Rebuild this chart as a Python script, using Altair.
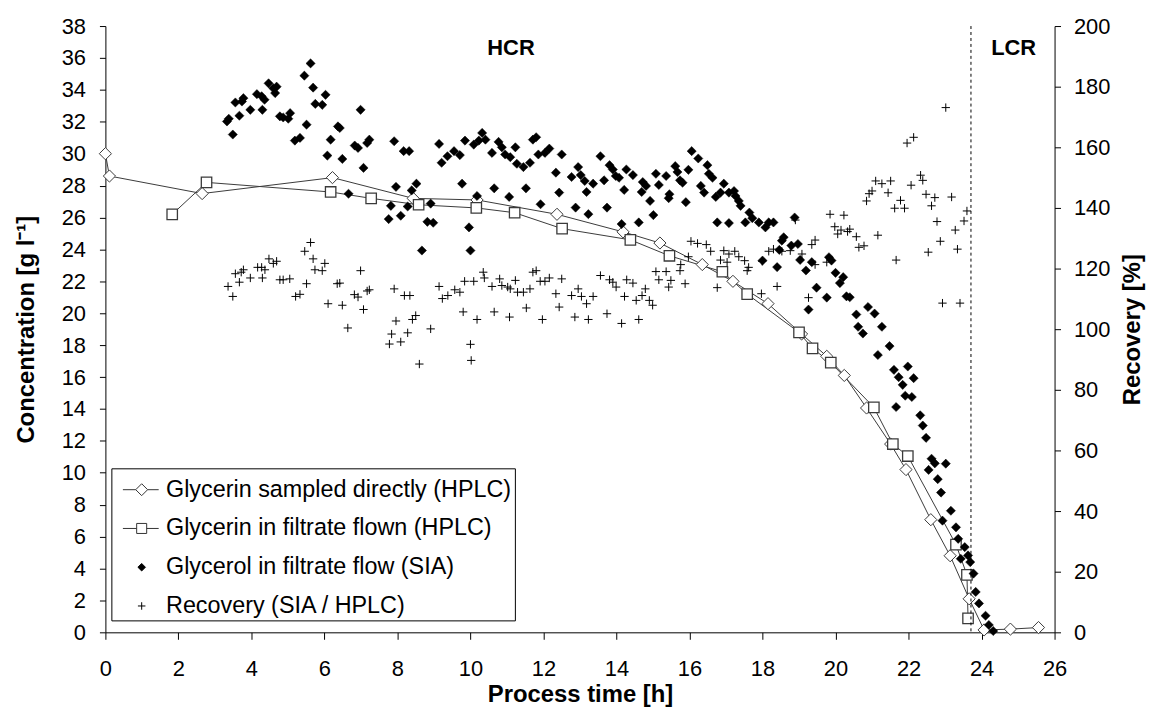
import altair as alt
import pandas as pd

FONT = "Liberation Sans"
LINE = "#3a3a3a"

# ---------------- data ----------------
series_names = [
    "Glycerin sampled directly (HPLC)",
    "Glycerin in filtrate flown (HPLC)",
    "Glycerol in filtrate flow (SIA)",
    "Recovery (SIA / HPLC)",
]

direct_t = [0.0, 0.11, 2.65, 6.22, 8.43, 10.18, 12.37, 14.18, 15.19, 16.35, 17.19, 18.15,
            19.07, 19.76, 20.24, 20.85, 21.51, 21.93, 22.61, 23.14, 23.66, 24.07, 24.79, 25.56]
direct_c = [30.0, 28.6, 27.5, 28.5, 27.2, 27.1, 26.2, 25.1, 24.4, 23.05, 22.0, 20.6,
            18.7, 17.3, 16.1, 14.06, 11.8, 10.2, 7.06, 4.8, 2.1, 0.15, 0.2, 0.3]

filtrate_t = [1.83, 2.77, 6.17, 7.28, 8.58, 10.16, 11.21, 12.51, 14.38, 15.45, 16.9, 17.58,
              19.0, 19.37, 19.87, 21.05, 21.57, 21.98, 23.3, 23.6, 23.63]
filtrate_c = [26.2, 28.2, 27.6, 27.2, 26.8, 26.6, 26.3, 25.3, 24.6, 23.6, 22.6, 21.2,
              18.8, 17.8, 16.9, 14.1, 11.8, 11.05, 5.5, 3.6, 0.87]

sia_t = [5.62, 5.45, 5.69, 6.03, 5.75, 5.94, 5.51, 4.47, 4.60, 4.69, 4.65, 4.15, 4.28, 4.36,
         3.78, 3.74, 3.56, 3.97, 4.30, 3.67, 3.38, 3.33, 3.49, 4.78, 4.87, 5.06, 5.01, 5.19,
         5.33, 6.17, 6.37, 6.42, 6.08, 6.49, 6.83, 6.92, 7.17, 7.23, 7.07, 6.99, 7.91, 7.96,
         7.82, 7.76, 6.66,
         8.17, 8.32, 9.14, 9.37, 9.21, 9.55, 9.71, 9.85, 10.09, 10.23, 10.32, 10.41, 10.59,
         10.77, 10.86, 10.95, 11.09, 11.23, 11.27, 11.45, 11.63, 11.71, 11.80, 11.86, 12.04,
         12.16, 12.50, 12.34, 12.43, 11.92, 11.52, 11.06, 10.65, 9.77, 10.18, 9.96, 10.00,
         8.67, 8.82, 8.98, 8.91, 8.52, 8.39, 8.28, 8.09, 12.95, 12.77, 13.02, 13.13, 13.18,
         13.36, 13.56, 13.81, 13.90, 13.98, 14.07, 14.27, 14.45, 13.66, 14.21, 12.88, 13.23,
         13.74, 14.14, 14.61, 15.01, 14.72, 14.81, 15.08, 15.16, 15.36, 15.61, 15.67, 15.74,
         15.81, 15.97, 16.06, 15.90, 14.92, 15.45, 15.43, 14.69,
         16.24, 16.49, 16.53, 16.63, 16.31, 16.40, 16.72, 16.94, 16.85, 17.08, 17.22, 17.26,
         17.35, 17.40, 16.76, 17.08, 17.64, 17.53, 17.72, 17.90, 18.08, 18.17, 18.30, 18.88,
         18.58, 18.53, 18.79, 18.97, 18.46, 18.40, 18.00, 19.03, 19.19, 19.35, 19.26, 19.48,
         19.76, 19.82, 19.89, 20.00, 20.21, 20.12, 20.30, 20.39, 20.57, 20.89, 21.07, 21.27,
         20.62, 20.75,
         21.48, 21.16, 21.60, 21.98, 21.73, 22.14, 21.84, 21.91, 22.09, 21.66, 22.32, 22.39,
         22.48, 22.63, 22.72, 23.02, 22.55, 22.80, 22.89, 23.16, 22.93, 23.30, 23.36, 23.54,
         23.63, 23.43, 23.69, 23.78, 23.84, 23.93, 24.11, 24.20, 24.32]
sia_c = [35.66, 34.89, 34.14, 33.69, 33.12, 33.06, 31.82, 34.41, 34.10, 34.20, 33.80, 33.73,
         33.60, 33.38, 33.48, 33.27, 33.21, 32.75, 32.75, 32.38, 32.19, 32.02, 31.20, 32.34,
         32.27, 32.54, 32.19, 30.82, 30.99, 30.88, 31.71, 31.61, 29.88, 29.67, 30.51, 30.36,
         30.67, 30.88, 29.11, 32.75, 30.78, 27.92, 26.73, 25.90, 27.49,
         30.16, 30.16, 30.61, 29.84, 29.43, 30.16, 29.91, 30.82, 30.57, 30.82, 31.30, 30.88,
         30.05, 30.74, 30.40, 29.95, 29.78, 30.40, 29.37, 29.16, 29.43, 30.88, 31.03, 29.95,
         30.05, 30.32, 29.95, 28.81, 27.56, 26.83, 27.83, 27.29, 27.83, 28.12, 27.35, 25.38,
         23.93, 23.93, 25.73, 25.67, 26.87, 28.12, 27.70, 26.69, 26.11, 29.16, 28.54, 28.66,
         28.29, 27.60, 28.12, 29.84, 29.28, 29.01, 28.60, 28.49, 29.01, 28.66, 28.33, 27.73,
         26.62, 26.21, 26.62, 25.59, 25.69, 26.15, 28.22, 27.98, 28.74, 28.04, 28.60, 29.22,
         28.85, 28.33, 28.18, 28.99, 30.16, 26.96, 27.04, 27.46, 27.21, 27.60,
         29.70, 29.28, 28.74, 28.49, 27.98, 27.56, 27.29, 28.12, 27.56, 27.56, 27.66, 27.35,
         27.04, 26.73, 25.69, 25.65, 26.31, 25.69, 25.96, 25.69, 25.38, 25.69, 25.69, 26.00,
         24.76, 24.55, 24.24, 24.34, 23.97, 22.89, 23.30, 23.34, 22.68, 23.20, 20.23, 21.60,
         20.98, 23.51, 23.30, 22.53, 22.26, 21.89, 21.06, 21.00, 19.92, 20.39, 19.98, 19.15,
         19.15, 18.73,
         17.94, 17.38, 16.45, 16.66, 15.99, 15.93, 15.51, 14.83, 14.75, 14.12, 13.60, 12.96,
         12.19, 10.88, 10.59, 10.57, 10.18, 9.60, 8.76, 7.62, 7.00, 6.58, 5.86, 5.34,
         4.82, 4.61, 4.40, 3.68, 2.53, 1.81, 1.04, 0.46, 0.08]

rec_t = [5.62, 5.46, 5.69, 6.01, 5.74, 5.94, 5.51, 4.48, 4.60, 4.69, 4.17, 4.28, 4.37, 3.78,
         3.72, 3.56, 3.97, 4.30, 3.67, 3.36, 3.49, 4.78, 4.87, 5.05, 5.21, 5.33, 6.10, 6.35,
         6.42, 6.49, 6.82, 6.92, 7.17, 7.23, 7.07, 6.99, 7.91, 6.64, 7.84, 7.96,
         7.78, 8.09, 8.28, 8.60, 10.00, 10.02,
         8.19, 8.34, 9.14, 9.23, 9.38, 9.57, 9.71, 9.84, 10.09, 10.35, 10.38, 10.59, 10.80,
         10.86, 11.02, 11.09, 11.23, 11.29, 11.45, 11.63, 11.71, 11.80, 11.91, 12.04, 12.16,
         12.50, 12.34, 12.43, 11.97, 11.53, 11.07, 10.65, 10.18, 9.80, 8.41, 8.50, 8.91,
         12.77, 12.95, 13.04, 13.18, 13.36, 13.56, 13.81, 13.90, 13.99, 14.22, 14.28, 14.45,
         14.54, 14.70, 14.79, 14.90, 14.99, 15.08, 15.16, 15.36, 15.49, 15.43, 15.74, 15.88,
         16.04, 15.97, 12.86, 13.23, 13.74, 14.14, 14.61,
         23.02, 21.96, 22.14, 22.33, 22.39, 22.07, 22.48, 22.72, 23.18, 22.63, 22.78, 22.87,
         23.28, 23.52, 23.60, 23.34, 22.54, 21.66, 22.93, 23.41, 21.10, 21.27, 21.51, 21.00,
         20.92, 21.44, 20.85, 21.62, 21.89, 21.78, 21.16, 19.85, 20.23, 19.98, 20.15, 20.33,
         20.06, 20.39, 20.57, 20.64, 20.78, 19.44, 19.35, 16.22, 16.46, 16.58, 16.94, 17.08,
         17.24, 17.35, 15.76, 16.76, 16.85, 17.03, 17.51, 17.62, 17.58, 17.99, 18.17, 18.30,
         18.53, 18.76, 19.08, 18.90, 18.40, 17.97, 19.26, 19.44, 19.76]
rec_v = [128.6, 125.7, 123.2, 121.7, 119.6, 119.3, 115.0, 123.2, 121.7, 122.4, 120.4, 120.4,
         119.6, 119.6, 118.8, 118.3, 116.9, 116.9, 115.5, 114.1, 110.8, 116.3, 116.3, 116.6,
         110.8, 111.5, 108.4, 115.0, 115.2, 107.9, 111.4, 110.6, 112.6, 113.0, 106.5, 119.3,
         113.3, 100.4, 98.4, 102.7,
         95.1, 95.8, 98.8, 88.5, 95.0, 89.7,
         111.1, 111.1, 114.1, 110.1, 111.1, 113.0, 112.2, 115.8, 115.8, 118.8, 116.9, 114.1,
         116.6, 114.4, 113.9, 113.3, 116.1, 112.2, 112.2, 113.3, 118.8, 119.3, 115.8, 115.8,
         116.9, 116.6, 111.7, 107.3, 103.2, 107.0, 104.0, 105.7, 103.2, 105.7, 103.2, 104.5,
         100.1, 111.1, 113.3, 110.8, 108.4, 110.8, 117.7, 116.3, 115.5, 113.9, 110.8, 116.3,
         115.2, 109.5, 111.1, 113.3, 109.5, 107.9, 119.0, 116.3, 119.0, 116.1, 113.9, 119.3,
         115.0, 129.0, 123.9, 104.0, 103.2, 105.1, 101.9, 103.2,
         173.1, 161.4, 163.3, 150.8, 149.1, 147.5, 144.5, 143.4, 143.6, 140.7, 135.5, 129.0,
         132.7, 135.7, 139.0, 126.4, 125.4, 122.8, 108.6, 108.6, 148.9, 148.0, 148.9, 145.6,
         144.7, 145.0, 142.3, 139.9, 139.9, 142.5, 131.0, 137.9, 137.6, 133.8, 132.7, 132.2,
         131.4, 133.0, 130.5, 127.0, 127.5, 129.4, 127.9, 128.3, 127.9, 125.7, 125.9, 124.8,
         125.7, 123.9, 121.3, 113.7, 122.8, 122.1, 122.6, 120.4, 119.3, 122.4, 125.7, 126.4,
         125.7, 125.9, 124.8, 136.0, 114.1, 111.7, 110.4, 121.3, 122.1]

phase_labels = ["HCR", "LCR"]
phase_t = [11.11, 24.88]
phase_c = [36.64, 36.64]
phase_boundary_t = [23.71]

x_ticks = list(range(0, 27, 2))
yl_ticks = list(range(0, 39, 2))
yr_ticks = list(range(0, 201, 20))

# ---------------- tables ----------------
direct_df = pd.DataFrame({"t": direct_t, "c": direct_c, "i": list(range(len(direct_t)))})
filtrate_df = pd.DataFrame({"t": filtrate_t, "c": filtrate_c, "i": list(range(len(filtrate_t)))})
sia_df = pd.DataFrame({"t": sia_t, "c": sia_c})
rec_df = pd.DataFrame({"t": rec_t, "r": rec_v})
phase_df = pd.DataFrame({"t": phase_t, "c": phase_c, "label": phase_labels})
bound_df = pd.DataFrame({"t": phase_boundary_t})
legend_df = pd.DataFrame({"series": series_names})

# ---------------- encodings ----------------
x_axis = alt.Axis(
    values=x_ticks, title="Process time [h]", grid=False,
    labelFont=FONT, labelFontSize=22, labelColor="black", labelPadding=19,
    labelFlush=False, labelOverlap=False,
    tickSize=7, tickColor="black", domainColor="black",
    titleFont=FONT, titleFontSize=24, titleFontWeight="bold", titleColor="black",
    titlePadding=4,
)
x_enc = alt.X("t:Q", scale=alt.Scale(domain=[0, 26], nice=False, zero=False), axis=x_axis)

yl_axis = alt.Axis(
    values=yl_ticks, title="Concentration [g l⁻¹]", grid=False, orient="left",
    labelFont=FONT, labelFontSize=22, labelColor="black", labelPadding=14,
    labelOverlap=False, labelFlush=False,
    tickSize=6, tickColor="black", domainColor="black",
    titleFont=FONT, titleFontSize=24, titleFontWeight="bold", titleColor="black",
    titlePadding=23,
)
yl_enc = alt.Y("c:Q", scale=alt.Scale(domain=[0, 38], nice=False), axis=yl_axis)

yr_axis = alt.Axis(
    values=yr_ticks, title="Recovery [%]", grid=False, orient="right",
    labelFont=FONT, labelFontSize=22, labelColor="black", labelPadding=13,
    labelOverlap=False, labelFlush=False,
    tickSize=6, tickColor="black", domainColor="black",
    titleFont=FONT, titleFontSize=24, titleFontWeight="bold", titleColor="black",
    titleAngle=270, titleBaseline="top", titlePadding=11,
)
yr_enc = alt.Y("r:Q", scale=alt.Scale(domain=[0, 200], nice=False), axis=yr_axis)

# ---------------- layers ----------------
line_direct = alt.Chart(direct_df).mark_line(color=LINE, strokeWidth=1).encode(
    x=x_enc, y=yl_enc, order="i:Q")
pts_direct = alt.Chart(direct_df).mark_point(
    shape="diamond", filled=True, fill="white", stroke=LINE, strokeWidth=1, size=150, opacity=1
).encode(x=x_enc, y=yl_enc)

line_filtrate = alt.Chart(filtrate_df).mark_line(color=LINE, strokeWidth=1).encode(
    x=x_enc, y=yl_enc, order="i:Q")
pts_filtrate = alt.Chart(filtrate_df).mark_point(
    shape="square", filled=True, fill="white", stroke=LINE, strokeWidth=1.3, size=110, opacity=1
).encode(x=x_enc, y=yl_enc)

sia = alt.Chart(sia_df).mark_point(
    shape="diamond", filled=True, fill="black", stroke="black", strokeWidth=0.5, size=85, opacity=1
).encode(x=x_enc, y=yl_enc)

boundary = alt.Chart(bound_df).mark_rule(color="black", strokeWidth=1, strokeDash=[3, 3]).encode(
    x=x_enc)

phases = alt.Chart(phase_df).mark_text(
    font=FONT, fontSize=22, fontWeight="bold", color="black", align="center", baseline="middle"
).encode(x=x_enc, y=yl_enc, text="label:N")

legend_paths = [
    "M-0.55,0H0.167M0.833,0H1.45M0.167,0L0.5,-0.333L0.833,0L0.5,0.333Z",
    "M-0.55,0H0.22M0.78,0H1.45M0.22,-0.28H0.78V0.28H0.22Z",
    "M0.29,0L0.5,-0.21L0.71,0L0.5,0.21Z",
    "M0.29,0H0.71M0.5,-0.21V0.21",
]
legend_fills = ["white", "white", "black", "white"]
legend_strokes = ["#333333", "#333333", "black", "black"]
leg = alt.Legend(
    title=None, orient="none", legendX=6, legendY=445,
    labelFont=FONT, labelFontSize=23.5, labelColor="black", labelLimit=600, labelOffset=15,
    symbolSize=1296, symbolStrokeWidth=1, symbolStrokeColor="black",
    strokeColor="black", fillColor="white", padding=3, rowPadding=9,
)
legend_layer = alt.Chart(legend_df).mark_point(
    filled=True, strokeWidth=1, opacity=1
).encode(
    shape=alt.Shape("series:N", scale=alt.Scale(domain=series_names, range=legend_paths), legend=leg),
    fill=alt.Fill("series:N", scale=alt.Scale(domain=series_names, range=legend_fills), legend=leg),
    stroke=alt.Stroke("series:N", scale=alt.Scale(domain=series_names, range=legend_strokes), legend=leg),
).transform_filter("false")

recovery = alt.Chart(rec_df).mark_point(
    shape="M-1,0H1M0,-1V1", filled=False, stroke="black", strokeWidth=1, size=70, opacity=1
).encode(x=x_enc, y=yr_enc)

left = alt.layer(line_direct, line_filtrate, pts_direct, pts_filtrate, sia, boundary, phases,
                 legend_layer)

chart = alt.layer(left, recovery).resolve_scale(y="independent").properties(
    width=955, height=610,
    autosize=alt.AutoSizeParams(type="none"),
    padding={"left": 98, "top": 16, "right": 92, "bottom": 76},
    background="white",
).configure_view(strokeWidth=0)

chart.save("out.html", embed_options={"renderer": "svg", "actions": False})
